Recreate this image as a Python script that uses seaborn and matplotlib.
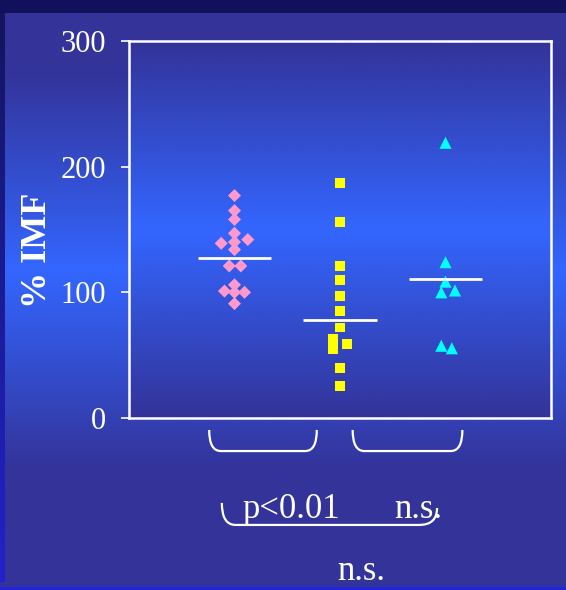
import numpy as np
import pandas as pd
import matplotlib.pyplot as plt
import seaborn as sns
from matplotlib.path import Path
from matplotlib.patches import PathPatch

# values (% IMF)
pink_values = [177, 165, 158, 147, 139, 140, 142, 134, 121, 121, 106, 101, 100, 100, 91]
pink_jitter = [0, 0, 0, 0, -0.126, 0, 0.126, 0, -0.05, 0.06, 0, -0.095, 0, 0.095, 0]
yellow_values = [187, 156, 121, 110, 97, 85, 72, 63, 55, 59, 40, 25.5]
yellow_jitter = [0, 0, 0, 0, 0, 0, 0, -0.066, -0.066, 0.063, 0, 0]
cyan_values = [219, 124, 108.5, 100, 101.5, 57.5, 55.5]
cyan_jitter = [0, 0, 0, -0.04, 0.09, -0.04, 0.06]
group_lines = [127.5, 78, 111]
yticks = [0, 100, 200, 300]

groups = ['pink', 'yellow', 'cyan']
df = pd.concat([
    pd.DataFrame({'group': 'pink', 'value': pink_values, 'x': np.add(1.0, pink_jitter)}),
    pd.DataFrame({'group': 'yellow', 'value': yellow_values, 'x': np.add(2.0, yellow_jitter)}),
    pd.DataFrame({'group': 'cyan', 'value': cyan_values, 'x': np.add(3.0, cyan_jitter)}),
], ignore_index=True)

sns.set_theme(style='ticks')
plt.rcParams['font.family'] = ['Liberation Serif', 'DejaVu Serif']

W, H = 566, 590
fig = plt.figure(figsize=(W / 100, H / 100), dpi=100)

# slide background
dark = np.array([0x33, 0x33, 0x99]) / 255
bright = np.array([0x33, 0x66, 0xff]) / 255
rows = np.arange(H)
f = np.clip(1 - np.abs(rows - 270) / 200, 0, 1)
bg = dark[None, :] * (1 - f[:, None]) + bright[None, :] * f[:, None]
bg = np.repeat(bg[:, None, :], W, axis=1)
bg[:13] = np.array([0x10, 0x10, 0x5c]) / 255
lf = np.clip((rows - 13) / (582 - 13), 0, 1)
left = np.array([0x14, 0x14, 0x60]) / 255 * (1 - lf[:, None]) + np.array([0x22, 0x22, 0xcc]) / 255 * lf[:, None]
bg[13:582, :5] = left[13:582, None, :]
bg[587:] = np.array([0x22, 0x22, 0xdd]) / 255
bg_ax = fig.add_axes([0, 0, 1, 1])
bg_ax.imshow(bg, aspect='auto', interpolation='bilinear')
bg_ax.axis('off')

ax = fig.add_axes([129 / W, 1 - 418 / H, 422 / W, 377 / H])
ax.set_facecolor('none')

# gradient inside the plot frame
t = np.linspace(0, 1, 200)
g = 1 - np.abs(t - 0.5) * 2
grad = dark[None, :] * (1 - g[:, None]) + bright[None, :] * g[:, None]
ax.imshow(grad[:, None, :], extent=(0, 4, 0, 300), aspect='auto', zorder=0, interpolation='bilinear')

sns.scatterplot(data=df, x='x', y='value', hue='group', style='group', size='group',
                palette={'pink': '#ff99cc', 'yellow': '#ffff00', 'cyan': '#00ffff'},
                markers={'pink': 'D', 'yellow': 's', 'cyan': '^'},
                sizes={'pink': 44, 'yellow': 50, 'cyan': 76},
                hue_order=groups, style_order=groups, size_order=groups,
                edgecolor='none', legend=False, ax=ax, zorder=3)

for i, v in enumerate(group_lines):
    ax.hlines(v, i + 1 - 0.35, i + 1 + 0.35, color='white', lw=2, zorder=4)

ax.set_xlim(0, 4)
ax.set_ylim(0, 300)
ax.set_xticks([])
ax.set_yticks(yticks)
ax.set_xlabel('')
ax.set_ylabel('')
ax.tick_params(axis='y', colors='white', length=6, width=1.2, pad=10.5, labelsize=22, direction='out')
for sp in ax.spines.values():
    sp.set_color('white')
    sp.set_linewidth(1.8)
    sp.set_visible(True)

fig.text(37 / W, 1 - 250 / H, '% IMF', rotation=90, ha='center', va='center',
         color='white', fontsize=26, fontweight='bold')


def bracket(x0, x1, ytop_l, ytop_r, ybot, rx_l, rx_r):
    verts = [(x0, ytop_l), (x0, ybot), (x0 + rx_l, ybot), (x1 - rx_r, ybot), (x1, ybot), (x1, ytop_r)]
    codes = [Path.MOVETO, Path.CURVE3, Path.CURVE3, Path.LINETO, Path.CURVE3, Path.CURVE3]
    ax.add_patch(PathPatch(Path(verts, codes), fill=False, edgecolor='white', lw=1.6, clip_on=False))


bracket(0.76, 1.78, -9.5, -9.5, -26.3, 0.11, 0.11)
bracket(2.12, 3.16, -9.5, -9.5, -26.3, 0.11, 0.11)
bracket(0.88, 2.92, -67.6, -71.6, -85.1, 0.13, 0.17)

ax.text(1.543, -79.6, 'p<0.01', ha='center', va='baseline', color='white', fontsize=25, clip_on=False)
ax.text(2.739, -79.6, 'n.s.', ha='center', va='baseline', color='white', fontsize=25, clip_on=False)
ax.text(2.204, -128.9, 'n.s.', ha='center', va='baseline', color='white', fontsize=25, clip_on=False)

fig.savefig('out.png', dpi=100)
